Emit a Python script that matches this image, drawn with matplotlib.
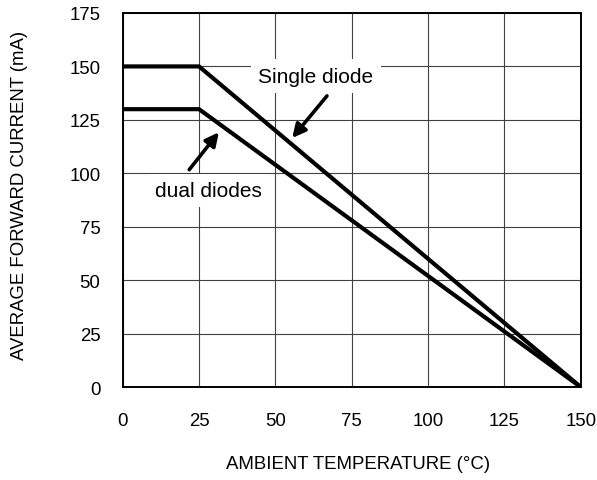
import matplotlib
matplotlib.use("Agg")
import matplotlib.pyplot as plt

plt.rcParams['font.family'] = ['Liberation Sans', 'DejaVu Sans']

# Data
single_temp = [0, 25, 150]
single_current = [150, 150, 0]
dual_temp = [0, 25, 150]
dual_current = [130, 130, 0]
x_ticks = [0, 25, 50, 75, 100, 125, 150]
y_ticks = [0, 25, 50, 75, 100, 125, 150, 175]

fig = plt.figure(figsize=(5.97, 4.81), dpi=100)
ax = fig.add_axes([0.2055, 0.1933, 0.7672, 0.7776])

ax.set_xlim(0, 150)
ax.set_ylim(0, 175)
ax.set_xticks(x_ticks)
ax.set_yticks(y_ticks)
ax.grid(True, color='#404040', linewidth=0.8)
ax.set_axisbelow(True)
ax.tick_params(length=0, labelsize=13.4, pad=0)
ax.tick_params(axis='x', pad=18)
ax.tick_params(axis='y', pad=16)
for s in ax.spines.values():
    s.set_linewidth(1.4)
    s.set_color('black')

ax.plot(single_temp, single_current, color='black', linewidth=3.0, solid_joinstyle='miter', zorder=3)
ax.plot(dual_temp, dual_current, color='black', linewidth=3.0, solid_joinstyle='miter', zorder=3)

box = dict(boxstyle='square,pad=0.35', facecolor='white', edgecolor='none')
ax.text(63.3, 145.5, 'Single diode', fontsize=15, ha='center', va='center', bbox=box, zorder=4)
ax.text(28.0, 91.9, 'dual diodes', fontsize=15, ha='center', va='center', bbox=box, zorder=4)

arrow = dict(arrowstyle='-|>,head_length=0.8,head_width=0.4', color='black', linewidth=2.6, shrinkA=0, shrinkB=0)
ax.annotate('', xy=(55.5, 116.5), xytext=(66.9, 136.2), arrowprops=arrow, zorder=5)
ax.annotate('', xy=(31.5, 119.2), xytext=(21.8, 101.7), arrowprops=arrow, zorder=5)

fig.text(0.6002, 0.0333, 'AMBIENT TEMPERATURE (°C)', fontsize=13.4, ha='center', va='center')
fig.text(0.0335, 0.5946, 'AVERAGE FORWARD CURRENT (mA)', fontsize=13.4, ha='center', va='center', rotation=90)

fig.savefig('out.png', dpi=100)
